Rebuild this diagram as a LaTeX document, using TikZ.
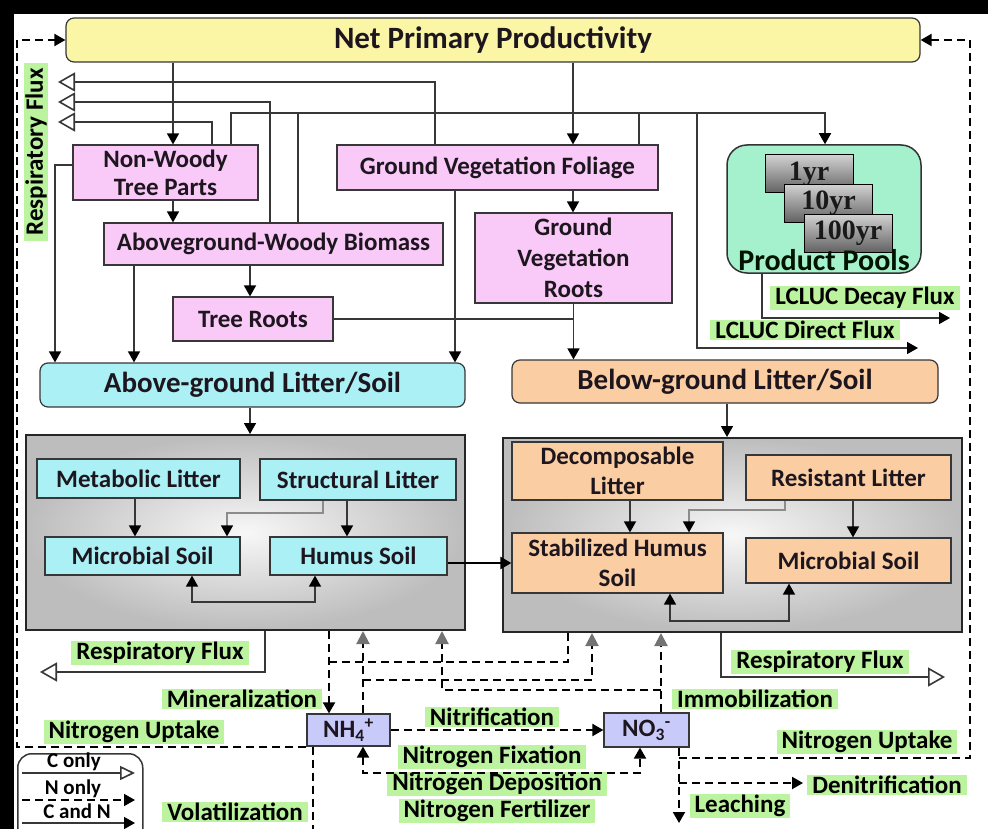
\documentclass[tikz,border=0pt]{standalone}
\usepackage{fontspec}
\setmainfont{Carlito}
\newfontfamily\serifnum{Liberation Serif}
\usetikzlibrary{arrows.meta,calc}
\definecolor{nppY}{RGB}{250,246,165}
\definecolor{pinkB}{RGB}{249,201,248}
\definecolor{cyanB}{RGB}{170,240,245}
\definecolor{oranB}{RGB}{250,206,162}
\definecolor{greenP}{RGB}{165,240,205}
\definecolor{labG}{RGB}{188,243,158}
\definecolor{lavB}{RGB}{200,202,250}
\definecolor{lineC}{RGB}{55,55,55}
\definecolor{txtC}{RGB}{30,22,30}
\newcommand{\fsz}[2]{\fontsize{#1}{#2}\selectfont}
\tikzset{
  bx/.style={draw=lineC, line width=1.2pt, inner sep=0pt, font=\fsz{25}{28}\bfseries, text=txtC, align=center},
  pk/.style={bx, fill=pinkB},
  cy/.style={bx, fill=cyanB},
  orb/.style={bx, fill=oranB},
  lav/.style={bx, fill=lavB},
  yrbox/.style={draw=black, line width=1pt, top color=black!18, bottom color=black!62, font=\serifnum\bfseries\fsz{28}{30}, text=black!90, minimum width=88pt, minimum height=38pt, inner sep=0pt},
  soilbox/.style={draw=black!85, line width=2pt, shading=radial, inner color=white!97!black, outer color=black!26, inner sep=0pt},
  lab/.style={fill=labG, inner xsep=5pt, inner ysep=1pt, font=\fsz{25}{27}\bfseries, text=black},
  legt/.style={inner sep=0pt, font=\fsz{21}{22}\bfseries, text=black},
  conn/.style={draw=lineC, line width=1.6pt},
  thinc/.style={draw=black!45, line width=1.3pt},
  nd/.style={draw=black, line width=2pt, dash pattern=on 8pt off 5pt},
  ar/.style={-{Triangle[length=11pt,width=12pt,color=black]}},
  dar/.style={{Triangle[length=11pt,width=12pt,color=black]}-{Triangle[length=11pt,width=12pt,color=black]}},
  gar/.style={-{Triangle[length=13pt,width=13pt,color=black!55]}},
  resp/.style={-{Triangle[open,length=17pt,width=19pt,fill=white,color=lineC]}},
}
\begin{document}
\begin{tikzpicture}[x=1pt,y=-1pt]
\useasboundingbox (0,0) rectangle (988,829);
\fill[black] (0,0) rectangle (988,829);
\fill[white] (14,14) rectangle (988,829);

% ---------- boxes ----------
\node[bx, rounded corners=8pt, fill=nppY, minimum width=854pt, minimum height=44pt, font=\fsz{31}{33}\bfseries] (npp) at (493,40) {Net Primary Productivity};

\node[pk, minimum width=185pt, minimum height=55pt] (nw) at (165.5,172.5) {Non-Woody\\Tree Parts};
\node[pk, minimum width=339pt, minimum height=42pt] (agw) at (273.5,244) {Aboveground-Woody Biomass};
\node[pk, minimum width=160pt, minimum height=44pt] (tr) at (253,319) {Tree Roots};
\node[pk, minimum width=321pt, minimum height=45pt] (gvf) at (497.5,167.5) {Ground Vegetation Foliage};
\node[pk, minimum width=197pt, minimum height=90pt, font=\fsz{25}{31}\bfseries] (gvr) at (573.5,258) {Ground\\Vegetation\\Roots};

\node[draw=black!80, line width=1.5pt, rounded corners=20pt, fill=greenP, minimum width=194pt, minimum height=128pt, inner sep=0pt] (pp) at (824,209) {};
\node[yrbox] (p1) at (809,174) {1yr};
\node[yrbox] (p10) at (828.5,203.5) {10yr};
\node[yrbox] (p100) at (848,233.5) {100yr};
\node[inner sep=0pt, font=\fsz{30}{32}\bfseries, text=black!92!green] (pplab) at (824,260) {Product Pools};

\node[bx, rounded corners=8pt, fill=cyanB, minimum width=425pt, minimum height=44pt, font=\fsz{29}{31}\bfseries] (agl) at (252.5,385) {Above-ground Litter/Soil};
\node[bx, rounded corners=8pt, fill=oranB, minimum width=426pt, minimum height=43pt, font=\fsz{29}{31}\bfseries] (bgl) at (725,381.5) {Below-ground Litter/Soil};

\node[soilbox, minimum width=439pt, minimum height=195pt] (lbox) at (245.5,532.5) {};
\node[soilbox, minimum width=459pt, minimum height=194pt] (rbox) at (732.5,535) {};

\node[cy, minimum width=203pt, minimum height=39pt] (ml) at (138.5,478.5) {Metabolic Litter};
\node[cy, minimum width=196pt, minimum height=41pt] (sl) at (358,479.5) {Structural Litter};
\node[cy, minimum width=195pt, minimum height=38pt] (msl) at (142.5,556) {Microbial Soil};
\node[cy, minimum width=177pt, minimum height=38pt] (hs) at (358.5,556) {Humus Soil};

\node[orb, minimum width=211pt, minimum height=58pt, font=\fsz{25}{30}\bfseries] (dl) at (617.5,471) {Decomposable\\Litter};
\node[orb, minimum width=205pt, minimum height=45pt] (rl) at (848.5,477.5) {Resistant Litter};
\node[orb, minimum width=211pt, minimum height=60pt, font=\fsz{25}{30}\bfseries] (shs) at (617.5,563) {Stabilized Humus\\Soil};
\node[orb, minimum width=205pt, minimum height=45pt] (msr) at (848.5,560.5) {Microbial Soil};

\node[lav, minimum width=83pt, minimum height=32pt] (nh4) at (348.5,730) {NH\textsubscript{4}\textsuperscript{+}};
\node[lav, minimum width=85pt, minimum height=34pt] (no3) at (646.5,730) {NO\textsubscript{3}\textsuperscript{-}};

% ---------- labels ----------
\node[lab, rotate=90] (lresp) at (36,152) {Respiratory Flux};
\node[lab] (ldecay) at (865,298) {LCLUC Decay Flux};
\node[lab] (ldirect) at (805,330) {LCLUC Direct Flux};
\node[lab] (lrespL) at (160,653) {Respiratory Flux};
\node[lab] (lrespR) at (820,662) {Respiratory Flux};
\node[lab] (lmin) at (242,699) {Mineralization};
\node[lab] (lupL) at (134,732) {Nitrogen Uptake};
\node[lab] (lvol) at (235,812) {Volatilization};
\node[lab] (lnit) at (492,717) {Nitrification};
\node[lab] (lfix) at (492,757) {Nitrogen Fixation};
\node[lab] (ldep) at (497,784) {Nitrogen Deposition};
\node[lab] (lfert) at (497,811) {Nitrogen Fertilizer};
\node[lab] (limm) at (755,699) {Immobilization};
\node[lab] (lupR) at (867,742) {Nitrogen Uptake};
\node[lab] (lden) at (887,785) {Denitrification};
\node[lab] (llea) at (740,806) {Leaching};

% ---------- top connectors ----------
\draw[conn,ar] (173,0 |- npp.south) -- (173,0 |- nw.north);
\draw[conn,ar] (573,0 |- npp.south) -- (573,0 |- gvf.north);
\draw[conn,ar] (173,0 |- nw.south) -- (173,0 |- agw.north);
\draw[conn,ar] (250,0 |- agw.south) -- (250,0 |- tr.north);
\draw[conn,ar] (573,0 |- gvf.south) -- (573,0 |- gvr.north);
\draw[conn,ar] (nw.west |- 0,165) -- (55,165) -- (55,0 |- agl.north);
\draw[conn,ar] (134,0 |- agw.south) -- (134,0 |- agl.north);
\draw[conn,ar] (455,0 |- gvf.south) -- (455,0 |- agl.north);
\draw[conn] (tr.east) -- (tr.east -| gvr.south);
\draw[conn,ar] (gvr.south) -- (gvr.south |- bgl.north);

\coordinate (r1) at (58,82);
\coordinate (r2) at (58,102);
\coordinate (r3) at (58,122);
\draw[conn,resp] (435,0 |- gvf.north) -- (435,82) -- (r1);
\draw[conn,resp] (270,0 |- agw.north) -- (270,102) -- (r2);
\draw[conn,resp] (212,0 |- nw.north) -- (212,122) -- (r3);

\draw[conn,ar] (231,0 |- nw.north) -- (231,113) -- (825,113) -- (825,0 |- pp.north);
\draw[conn] (298,0 |- agw.north) -- (298,113);
\draw[conn] (639,0 |- gvf.north) -- (639,113);
\coordinate (dirEnd) at (918,348);
\draw[conn,ar] (697,113) -- (697,348) -- (dirEnd);
\coordinate (decEnd) at (950,318);
\draw[conn,ar] (762,0 |- pp.south) -- (762,318) -- (decEnd);

% ---------- middle connectors ----------
\draw[conn,ar] (250,0 |- agl.south) -- (250,0 |- lbox.north);
\draw[conn,ar] (727,0 |- bgl.south) -- (727,0 |- rbox.north);
\draw[conn,ar] (135,0 |- ml.south) -- (135,0 |- msl.north);
\draw[conn,ar] (347,0 |- sl.south) -- (347,0 |- hs.north);
\draw[thinc,ar] (323,0 |- sl.south) -- (323,513) -- (227,513) -- (227,0 |- msl.north);
\draw[conn,dar] (192,0 |- msl.south) -- (192,602) -- (315,602) -- (315,0 |- hs.south);
\draw[line width=2.5pt, black, ar] (hs.east |- 0,563) -- (shs.west |- 0,563);
\draw[conn,ar] (630,0 |- dl.south) -- (630,0 |- shs.north);
\draw[conn,ar] (853,0 |- rl.south) -- (853,0 |- msr.north);
\draw[thinc,ar] (785,0 |- rl.south) -- (785,510) -- (689,510) -- (689,0 |- shs.north);
\draw[conn,dar] (670,0 |- shs.south) -- (670,621) -- (789,621) -- (789,0 |- msr.south);

% ---------- bottom connectors ----------
\coordinate (rlEnd) at (40,672);
\draw[conn,resp] (265,0 |- lbox.south) -- (265,672) -- (rlEnd);
\coordinate (rrEnd) at (945,677);
\draw[conn,resp] (721,0 |- rbox.south) -- (721,677) -- (rrEnd);

\draw[nd,ar] (329,0 |- lbox.south) -- (329,0 |- nh4.north);
\draw[nd] (329,662) -- (568,662) -- (568,0 |- rbox.south);
\draw[nd,gar] (363,0 |- nh4.north) -- (363,0 |- lbox.south);
\draw[nd,gar] (363,680) -- (592,680) -- (592,0 |- rbox.south);
\draw[nd,gar] (661,0 |- no3.north) -- (661,0 |- rbox.south);
\draw[nd,gar] (661,690) -- (442,690) -- (442,0 |- lbox.south);
\draw[nd,ar] (nh4.east) -- (no3.west);
\draw[nd,dar] (363,0 |- nh4.south) -- (363,773) -- (640,773) -- (640,0 |- no3.south);

\draw[nd,ar] (nh4.south west) -- (17,0 |- nh4.south west) -- (17,40) -- (npp.west);
\coordinate (volEnd) at (313,829);
\draw[nd] (313,0 |- nh4.south) -- (volEnd);

\coordinate (leaEnd) at (679,823);
\draw[nd,ar] (679,0 |- no3.south) -- (leaEnd);
\draw[nd,ar] (679,758) -- (970,758) -- (970,40) -- (npp.east);
\coordinate (denEnd) at (803,783);
\draw[nd,ar] (679,783) -- (denEnd);

% ---------- legend ----------
\node[draw=lineC, line width=1.5pt, rounded corners=14pt, fill=white, minimum width=125pt, minimum height=95pt, inner sep=0pt, anchor=north west] (leg) at (17,753) {};
\node[legt] (lgc) at (74,762) {C only};
\node[legt] (lgn) at (73,789) {N only};
\node[legt] (lgcn) at (77,811) {C and N};
\coordinate (lga) at (22,773); \coordinate (lgb) at (135,773);
\coordinate (lgc1) at (22,800); \coordinate (lgc2) at (135,800);
\coordinate (lgd1) at (22,823); \coordinate (lgd2) at (135,823);
\draw[conn,-{Triangle[open,length=15pt,width=14pt,fill=white,color=lineC]}] (lga) -- (lgb);
\draw[nd,line width=1.6pt,ar] (lgc1) -- (lgc2);
\draw[conn,ar] (lgd1) -- (lgd2);
\end{tikzpicture}
\end{document}
